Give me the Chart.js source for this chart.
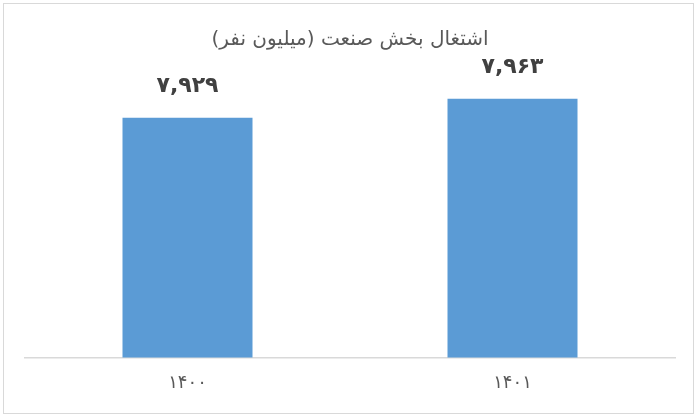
<!DOCTYPE html>
<html lang="fa">
<head>
<meta charset="utf-8">
<script src="https://cdn.jsdelivr.net/npm/chart.js@4.4.1/dist/chart.umd.min.js"></script>
<style>
    html, body { margin: 0; padding: 0; background: #fff; }
    body { width: 700px; height: 420px; position: relative; overflow: hidden; }
    #frame {
        position: absolute; left: 3px; top: 3px;
        width: 689px; height: 409px;
        border: 1px solid #d9d9d9; background: #fff;
    }
</style>
</head>
<body>
<div id="frame"><canvas id="industryChart" width="689" height="409"></canvas></div>
<script>
const chartTitle = 'اشتغال بخش صنعت (میلیون نفر)';
const years = ['1400', '1401'];
const employment = [7.929, 7.963];
const axisMin = 7.5;
const axisMax = 8.0;

// latin digits -> persian digits
function toPersian(str) {
    return String(str).replace(/[0-9]/g, d => '۰۱۲۳۴۵۶۷۸۹'[d]);
}

function formatValue(v) {
    return toPersian(v.toFixed(3).replace('.', ','));
}

// value labels on top of the bars
const barLabels = {
    id: 'barLabels',
    afterDatasetsDraw(chart) {
        const ctx = chart.ctx;
        const meta = chart.getDatasetMeta(0);
        ctx.save();
        ctx.font = 'bold 22px "DejaVu Sans"';
        ctx.fillStyle = '#404040';
        ctx.textAlign = 'center';
        ctx.textBaseline = 'middle';
        meta.data.forEach((bar, i) => {
            ctx.fillText(formatValue(employment[i]), bar.x, bar.y - 31);
        });
        ctx.restore();
    }
};

const ctx = document.getElementById('industryChart').getContext('2d');
new Chart(ctx, {
    type: 'bar',
    data: {
        labels: years.map(toPersian),
        datasets: [{
            data: employment,
            backgroundColor: '#5b9bd5',
            borderWidth: 0,
            barPercentage: 0.4,
            categoryPercentage: 1.0
        }]
    },
    options: {
        responsive: false,
        animation: false,
        layout: { padding: { left: 21, right: 18, top: 8, bottom: 4 } },
        plugins: {
            legend: { display: false },
            tooltip: { enabled: false },
            title: {
                display: true,
                text: chartTitle,
                color: '#595959',
                font: { family: '"DejaVu Sans"', size: 20, weight: 'normal' },
                padding: { top: 16, bottom: 26 }
            }
        },
        scales: {
            x: {
                grid: { display: false, drawTicks: false },
                border: { color: '#d9d9d9', width: 1.5 },
                ticks: {
                    color: '#595959',
                    font: { family: '"DejaVu Sans"', size: 18 },
                    padding: 15
                }
            },
            y: {
                display: false,
                min: axisMin,
                max: axisMax
            }
        }
    },
    plugins: [barLabels]
});
</script>
</body>
</html>
